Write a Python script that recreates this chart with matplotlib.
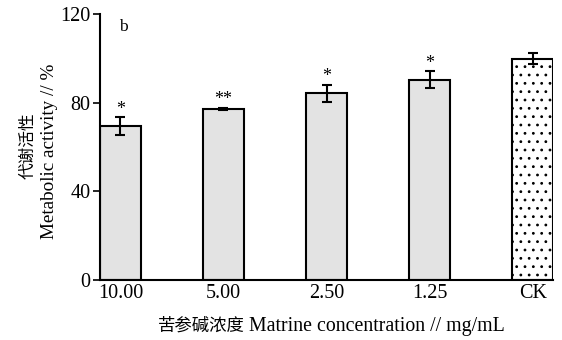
import numpy as np
import matplotlib
matplotlib.use("Agg")
import matplotlib.pyplot as plt

# data
labels = ['10.00', '5.00', '2.50', '1.25', 'CK']
values = [69.5, 77.2, 84.3, 90.4, 99.9]
errors = [4.0, 0.5, 3.8, 3.8, 2.3]
stars = ['*', '**', '*', '*', '']

plt.rcParams['font.family'] = ['Liberation Serif', 'Noto Sans CJK SC']
plt.rcParams['hatch.linewidth'] = 0.8

W, H = 562, 340
fig = plt.figure(figsize=(W / 100, H / 100), dpi=100)
ax = fig.add_axes([0.178, 0.176, 0.806, 0.783])

x = np.arange(len(labels))
width = 0.395
colors = ['#e3e3e3'] * 4 + ['white']
bars = ax.bar(x, values, width, color=colors, edgecolor='k', linewidth=1.5, zorder=2)
bars[-1].set_hatch('..')
ax.errorbar(x, values, yerr=errors, fmt='none', ecolor='k', elinewidth=1.5,
            capsize=3.5, capthick=1.5, zorder=3)

for xi, v, e, s in zip(x, values, errors, stars):
  if s:
    ax.text(xi, v + e - 0.3, s, ha='center', va='bottom', fontsize=13)

ax.text(-0.01, 114, 'b', ha='left', va='center', fontsize=12.5)

ax.set_xlim(-width / 2, len(labels) - 1 + width / 2)
ax.set_ylim(0, 120)
ax.set_yticks([0, 40, 80, 120])
ax.set_xticks(x)
ax.set_xticklabels(labels)
ax.tick_params(axis='x', length=0, labelsize=14.5, pad=3)
ax.tick_params(axis='y', direction='out', length=5, width=1.2, labelsize=14.5, pad=2)
for sp in ['top', 'right']:
  ax.spines[sp].set_visible(False)
for sp in ['left', 'bottom']:
  ax.spines[sp].set_linewidth(1.5)

# axis titles: Chinese part and Latin part set separately
fig.text(28 / W, 1 - 146 / H, '代谢活性', rotation=90, ha='center', va='center',
         fontsize=12, family='Noto Sans CJK SC')
fig.text(50 / W, 1 - 151 / H, 'Metabolic activity // %', rotation=90, ha='center',
         va='center', fontsize=13.8)
fig.text(245 / W, 1 - 326 / H, '苦参碱浓度', ha='right', va='center',
         fontsize=12.5, family='Noto Sans CJK SC')
fig.text(249 / W, 1 - 326 / H, 'Matrine concentration // mg/mL', ha='left',
         va='center', fontsize=14.3)

plt.savefig('out.png', dpi=100)
